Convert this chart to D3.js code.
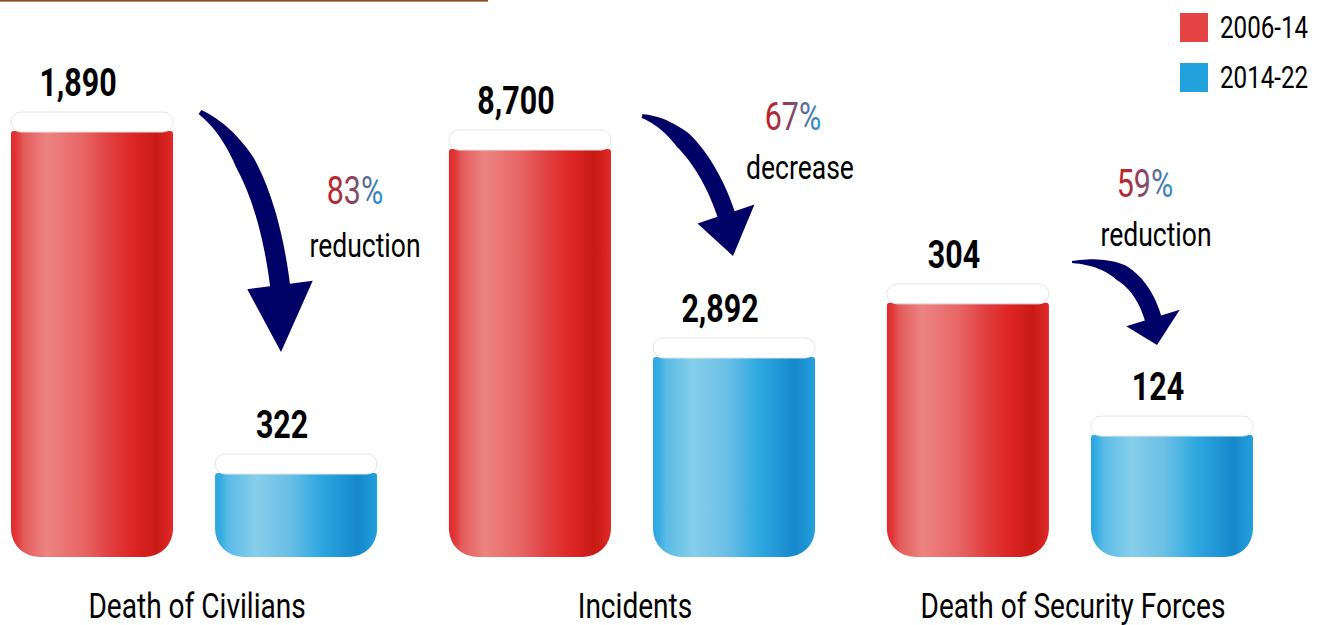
<!DOCTYPE html>
<html>
<head>
<meta charset="utf-8">
<script src="https://cdn.jsdelivr.net/npm/d3@7"></script>
<style>
  html, body { margin: 0; padding: 0; background: #fff; overflow: hidden; }
  text { font-family: Roboto, 'Noto Sans', sans-serif; }
</style>
</head>
<body>
<div id="chart"></div>
<script>
// data
var categories = ["Death of Civilians", "Incidents", "Death of Security Forces"];
var series = ["2006-14", "2014-22"];
var values2006 = [1890, 8700, 304];
var values2014 = [322, 2892, 124];
var changePct = ["83%", "67%", "59%"];
var changeWord = ["reduction", "decrease", "reduction"];
// each group in the source picture has its own (unlabelled) value axis
var groupDomains = [[-63, 1890], [-2693, 9203], [-42, 538]];

var width = 1320, height = 625;
var baseY = 557, topY = 131;
var narrow = 0.78; // squeeze text horizontally to look like a condensed face

var svg = d3.select("#chart").append("svg")
    .attr("width", width)
    .attr("height", height);

var defs = svg.append("defs");

function addGradient(id, stops) {
    var g = defs.append("linearGradient")
        .attr("id", id)
        .attr("x1", 0).attr("x2", 1).attr("y1", 0).attr("y2", 0);
    stops.forEach(function(s) {
        g.append("stop").attr("offset", s[0]).attr("stop-color", s[1]);
    });
}
addGradient("grad-red", [[0, "#e0282a"], [0.04, "#e03a3a"], [0.08, "#e45c5c"], [0.22, "#ec8482"],
    [0.45, "#e86464"], [0.62, "#e03c3c"], [0.75, "#de2626"], [0.9, "#c81a14"], [1, "#e02a2a"]]);
addGradient("grad-blue", [[0, "#2aa6e0"], [0.04, "#3aaee2"], [0.08, "#5abbe6"], [0.25, "#86ceeb"],
    [0.45, "#6cc0e6"], [0.65, "#2ea8e0"], [0.88, "#1688cc"], [1, "#24a0dc"]]);
addGradient("grad-pct", [[0, "#c81a1e"], [0.45, "#8a4460"], [1, "#2498d8"]]);

// squeezed text helper
function label(parent, x, y, txt, size, opts) {
    opts = opts || {};
    var g = parent.append("g")
        .attr("transform", "translate(" + x + "," + y + ") scale(" + narrow + ",1)");
    return g.append("text")
        .attr("text-anchor", opts.anchor || "middle")
        .attr("font-size", size)
        .attr("font-weight", opts.weight || "normal")
        .attr("fill", opts.fill || "#000")
        .text(txt);
}

// top rule
svg.append("rect")
    .attr("x", 0).attr("y", 0)
    .attr("width", 488).attr("height", 1.6)
    .attr("fill", "#8b4a1c");

// scales
var x0 = d3.scaleBand()
    .domain(categories)
    .range([11, 1253])
    .paddingInner(0.164)
    .paddingOuter(0);

var x1 = d3.scaleBand()
    .domain(series)
    .range([0, x0.bandwidth()])
    .paddingInner(0.206)
    .paddingOuter(0);

var yScales = groupDomains.map(function(d) {
    return d3.scaleLinear().domain(d).range([baseY, topY]);
});

var fmt = d3.format(",");

var rows = [];
categories.forEach(function(c, i) {
    rows.push({cat: c, gi: i, ser: series[0], value: values2006[i], grad: "url(#grad-red)"});
    rows.push({cat: c, gi: i, ser: series[1], value: values2014[i], grad: "url(#grad-blue)"});
});

function barPath(x, y, w, h, rTop, rBot) {
    var p = d3.path();
    p.moveTo(x + rTop, y);
    p.lineTo(x + w - rTop, y);
    p.quadraticCurveTo(x + w, y, x + w, y + rTop);
    p.lineTo(x + w, y + h - rBot);
    p.arcTo(x + w, y + h, x + w - rBot, y + h, rBot);
    p.lineTo(x + rBot, y + h);
    p.arcTo(x, y + h, x, y + h - rBot, rBot);
    p.lineTo(x, y + rTop);
    p.quadraticCurveTo(x, y, x + rTop, y);
    p.closePath();
    return p.toString();
}

var barG = svg.append("g");
var bars = barG.selectAll("g")
    .data(rows)
    .join("g");

bars.append("path")
    .attr("d", function(d) {
        var x = x0(d.cat) + x1(d.ser);
        var y = yScales[d.gi](d.value);
        return barPath(x, y, x1.bandwidth(), baseY - y, 3, 28);
    })
    .attr("fill", function(d) { return d.grad; });

// white caps
bars.append("rect")
    .attr("x", function(d) { return x0(d.cat) + x1(d.ser); })
    .attr("y", function(d) { return yScales[d.gi](d.value) - 19; })
    .attr("width", x1.bandwidth())
    .attr("height", 20)
    .attr("rx", 10)
    .attr("fill", "#fff")
    .attr("stroke", "#e4e4e4")
    .attr("stroke-width", 1);

// value labels
rows.forEach(function(d) {
    var cx = x0(d.cat) + x1(d.ser) + x1.bandwidth() / 2 - 14;
    label(barG, cx, yScales[d.gi](d.value) - 35, fmt(d.value), 39, {weight: "bold"});
});

// category labels
categories.forEach(function(c) {
    label(svg, x0(c) + x0.bandwidth() / 2 + 3, 618, c, 36);
});

// change annotations
var notes = [
    {pct: [355, 204], word: [365, 257]},
    {pct: [793, 130], word: [800, 179]},
    {pct: [1145, 197], word: [1156, 246]}
];
notes.forEach(function(n, i) {
    label(svg, n.pct[0], n.pct[1], changePct[i], 39, {fill: "url(#grad-pct)"});
    label(svg, n.word[0], n.word[1], changeWord[i], 34);
});

// curved arrows
var arrows = [
    {tail: [200, 112], c1: [245, 140], c2: [270, 206], base: [280, 285], tip: [281, 352], w0: 5, w1: 20, hw: 33},
    {tail: [642, 116], c1: [680, 125], c2: [710, 166], base: [726, 214], tip: [733, 256], w0: 4, w1: 18, hw: 30},
    {tail: [1072, 262], c1: [1125, 260], c2: [1144, 289], base: [1153, 318], tip: [1157, 345], w0: 2, w1: 17, hw: 28}
];

function arrowPath(a) {
    var N = 40, left = [], right = [];
    function pt(t, k) {
        var u = 1 - t;
        return u * u * u * a.tail[k] + 3 * u * u * t * a.c1[k] + 3 * u * t * t * a.c2[k] + t * t * t * a.base[k];
    }
    function der(t, k) {
        var u = 1 - t;
        return 3 * u * u * (a.c1[k] - a.tail[k]) + 6 * u * t * (a.c2[k] - a.c1[k]) + 3 * t * t * (a.base[k] - a.c2[k]);
    }
    var nEnd;
    for (var i = 0; i <= N; i++) {
        var t = i / N;
        var px = pt(t, 0), py = pt(t, 1);
        var dx = der(t, 0), dy = der(t, 1);
        var len = Math.sqrt(dx * dx + dy * dy);
        var nx = -dy / len, ny = dx / len;
        var w = a.w0 + (a.w1 - a.w0) * Math.min(1, t / 0.4);
        left.push([px + nx * w / 2, py + ny * w / 2]);
        right.push([px - nx * w / 2, py - ny * w / 2]);
        if (i == N) nEnd = [nx, ny];
    }
    var p = d3.path();
    p.moveTo(left[0][0], left[0][1]);
    for (var j = 1; j <= N; j++) p.lineTo(left[j][0], left[j][1]);
    p.lineTo(a.base[0] + nEnd[0] * a.hw, a.base[1] + nEnd[1] * a.hw);
    p.lineTo(a.tip[0], a.tip[1]);
    p.lineTo(a.base[0] - nEnd[0] * a.hw, a.base[1] - nEnd[1] * a.hw);
    for (var k = N; k >= 0; k--) p.lineTo(right[k][0], right[k][1]);
    p.closePath();
    return p.toString();
}

svg.append("g").selectAll("path")
    .data(arrows)
    .join("path")
    .attr("d", arrowPath)
    .attr("fill", "#000066");

// legend
var legendColors = ["#e44343", "#22a2dc"];
series.forEach(function(s, i) {
    var ly = 13 + i * 50;
    svg.append("rect")
        .attr("x", 1180).attr("y", ly)
        .attr("width", 28).attr("height", 29)
        .attr("fill", legendColors[i]);
    label(svg, 1220, ly + 25, s, 31, {anchor: "start"});
});
</script>
</body>
</html>
